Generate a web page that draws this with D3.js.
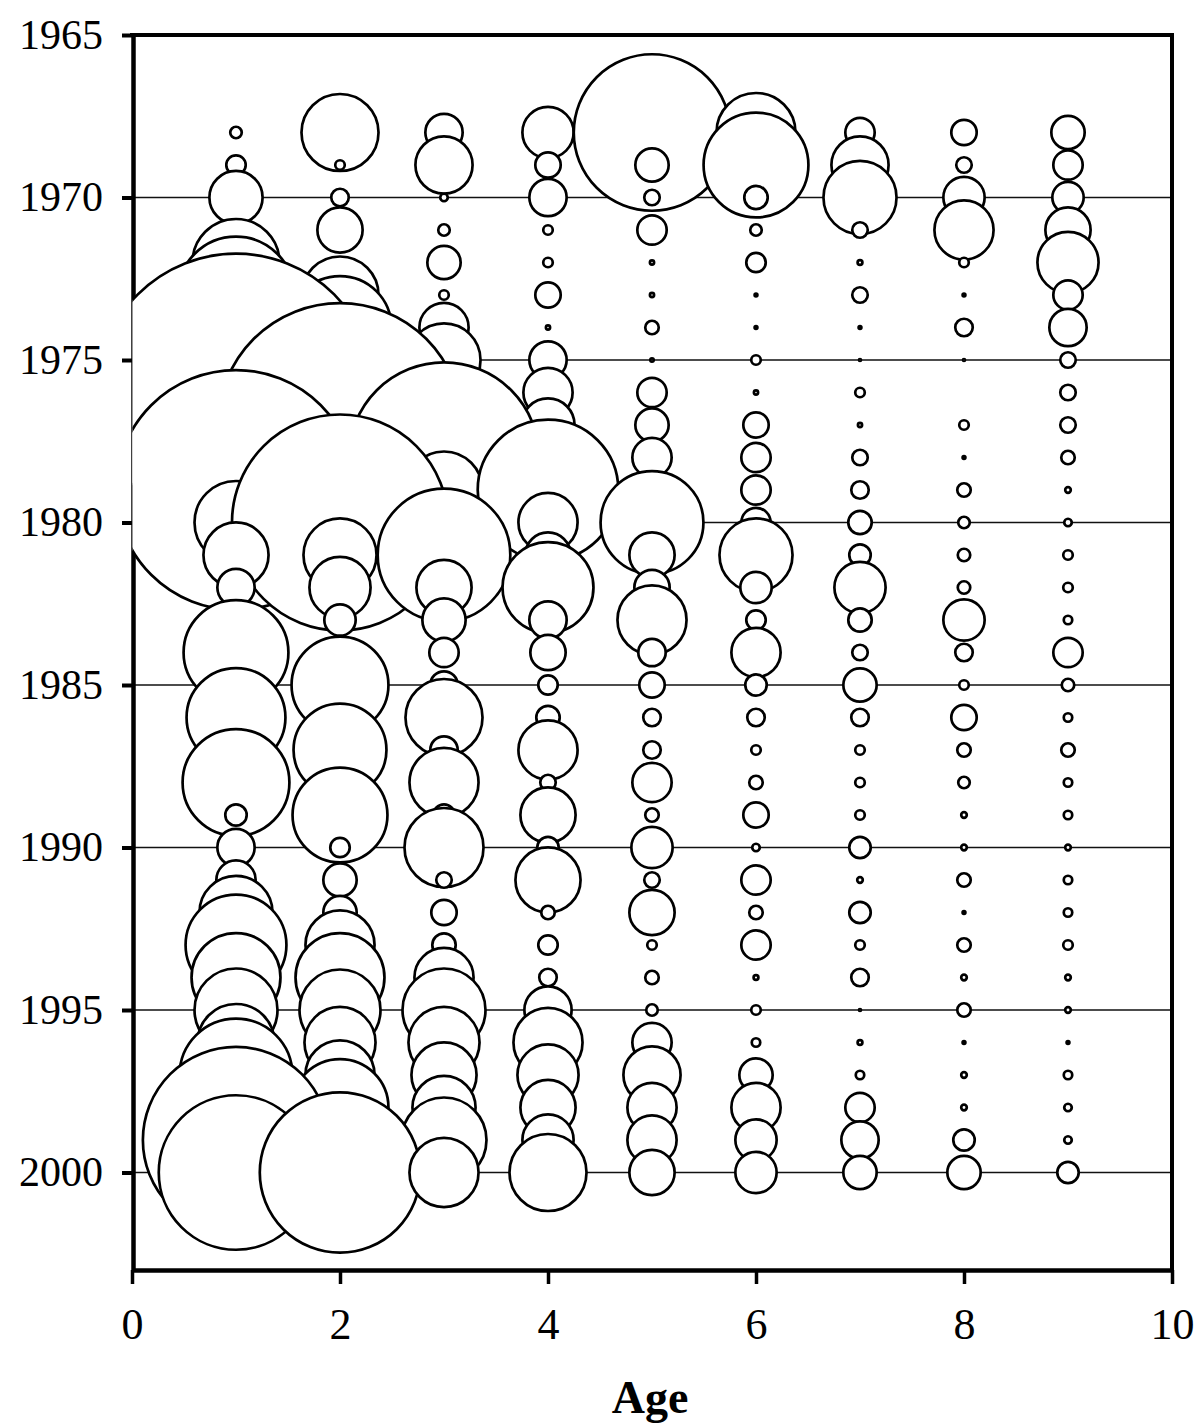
<!DOCTYPE html>
<html><head><meta charset="utf-8">
<script src="https://cdn.jsdelivr.net/npm/d3@7"></script>
<style>body{margin:0;background:#fff}</style>
</head><body>
<svg id="chart" width="1202" height="1428"></svg>
<script>
// ---- data (bubble values; area is proportional to value) ----
const years = [1968,1969,1970,1971,1972,1973,1974,1975,1976,1977,1978,1979,1980,1981,1982,1983,1984,
               1985,1986,1987,1988,1989,1990,1991,1992,1993,1994,1995,1996,1997,1998,1999,2000];
const ages = [1,2,3,4,5,6,7,8,9];
const age1 = [49,121,784,100,2025,3600,4900,9025,19881,2500,6400,14884,1849,1156,400,400,2916,225,2601,225,3025,144,400,441,1444,2704,2116,1849,1600,3364,3025,9025,6241];
const age2 = [1600,36,100,576,36,1600,2809,2025,6400,15376,1600,4900,12100,1444,1024,289,225,2500,144,2304,144,2401,121,324,324,1296,2116,1764,1369,1296,2500,1600,6724];
const age3 = [400,900,25,49,324,36,676,1444,784,3025,9409,1600,900,4624,841,529,256,225,1600,225,1296,144,1681,81,196,169,961,1849,1369,1156,1089,1936,1296];
const age4 = [729,196,400,36,36,196,9,400,676,784,1225,5184,961,576,2209,400,361,121,169,961,81,841,144,1156,64,121,100,625,1296,1024,841,729,1600];
const age5 = [6400,324,81,256,9,9,64,6,256,324,441,324,2809,576,361,1296,225,196,100,100,441,64,484,81,576,36,64,49,441,900,676,676,576];
const age6 = [1681,2916,169,49,121,4,4,36,9,196,256,256,256,1444,289,121,676,144,100,36,64,196,25,256,64,256,12,36,30,324,676,484,484];
const age7 = [256,900,1444,81,12,81,4,2,36,9,81,100,169,144,729,169,81,324,100,36,36,36,144,16,144,36,100,2,12,30,256,400,324];
const age8 = [196,81,484,961,36,4,100,2,0,36,4,64,49,56,56,484,100,36,196,64,49,16,16,64,4,64,16,64,4,16,16,144,324];
const age9 = [324,256,289,576,1024,256,400,81,81,81,64,16,25,36,36,30,256,56,30,64,30,30,16,30,30,36,16,16,4,30,25,25,144];
const seriesByAge = [age1,age2,age3,age4,age5,age6,age7,age8,age9];
const xTickValues = [0,2,4,6,8,10];
const yTickValues = [1965,1970,1975,1980,1985,1990,1995,2000];
const gridYears = [1970,1975,1980,1985,1990,1995,2000];
const xTitle = "Age";

(function () {
// ---- build records, year-major order (later years drawn on top) ----
const records = [];
years.forEach((yr, i) => {
  ages.forEach((a, j) => {
    const v = seriesByAge[j][i];
    if (v > 0) records.push({year: yr, age: a, value: v});
  });
});

const svg = d3.select("#chart");
const pL = 132, pR = 1172, pT = 35, pB = 1270;
const x = d3.scaleLinear().domain([0, 10]).range([pL, pR]);
const y = d3.scaleLinear().domain([1965, 2003]).range([pT, pB]);
const r = d3.scaleSqrt().domain([0, d3.max(records, d => d.value)]).range([0, 140]);
const strokeW = 2.7;
const pathR = v => { const rr = r(v); return rr > 4 ? rr - 1.2 : rr * 0.7; };

const font = "'Liberation Serif','Times New Roman',serif";

// clip
svg.append("defs").append("clipPath").attr("id", "plotclip")
  .append("rect").attr("x", pL + 0.4).attr("y", pT).attr("width", pR - pL - 0.4).attr("height", pB - pT);

// gridlines
svg.append("g").selectAll("line").data(gridYears).join("line")
  .attr("x1", pL).attr("x2", pR)
  .attr("y1", d => y(d)).attr("y2", d => y(d))
  .attr("stroke", "#111").attr("stroke-width", 1.7);

// left axis (drawn before bubbles so bubbles partly cover it)
const yAxis = d3.axisLeft(y).tickValues(yTickValues).tickFormat(d3.format("d"))
  .tickSize(11).tickSizeOuter(0).tickPadding(19);
const gy = svg.append("g").attr("transform", `translate(${pL + 1},0)`).call(yAxis);
gy.select(".domain").attr("stroke", "#000").attr("stroke-width", 4.5);
gy.selectAll(".tick line").attr("stroke", "#000").attr("stroke-width", 4);
gy.selectAll(".tick text").attr("fill", "#000").style("font-family", font).style("font-size", "42px");

// bubbles
svg.append("g").attr("clip-path", "url(#plotclip)")
  .selectAll("circle").data(records).join("circle")
  .attr("cx", d => x(d.age))
  .attr("cy", d => y(d.year))
  .attr("r", d => pathR(d.value))
  .attr("fill", "#fff")
  .attr("stroke", "#000")
  .attr("stroke-width", strokeW);

// bottom axis
const xAxis = d3.axisBottom(x).tickValues(xTickValues).tickFormat(d3.format("d"))
  .tickSize(14).tickSizeOuter(0).tickPadding(24);
const gx = svg.append("g").attr("transform", `translate(0,${pB})`).call(xAxis);
gx.select(".domain").attr("stroke", "#000").attr("stroke-width", 4.5);
gx.selectAll(".tick line").attr("stroke", "#000").attr("stroke-width", 3.5);
gx.selectAll(".tick text").attr("fill", "#000").style("font-family", font).style("font-size", "44px");

// top and right frame
svg.append("line").attr("x1", pL - 2).attr("x2", pR + 2).attr("y1", pT).attr("y2", pT)
  .attr("stroke", "#000").attr("stroke-width", 4);
svg.append("line").attr("x1", pR).attr("x2", pR).attr("y1", pT).attr("y2", pB)
  .attr("stroke", "#000").attr("stroke-width", 4);

// axis title
svg.append("text").attr("x", 650).attr("y", 1413).attr("text-anchor", "middle")
  .style("font-family", font).style("font-size", "46px").style("font-weight", "bold")
  .text(xTitle);
})();
</script>
</body></html>
